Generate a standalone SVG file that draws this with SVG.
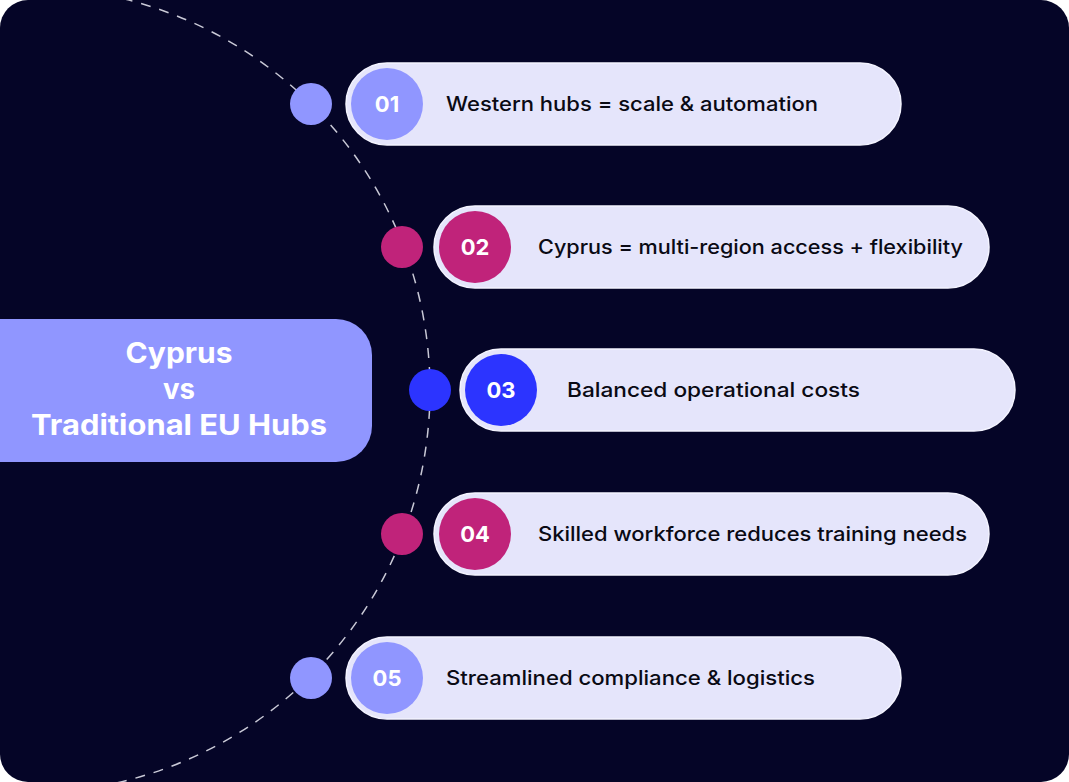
<svg xmlns="http://www.w3.org/2000/svg" width="1069" height="782" viewBox="0 0 1069 782">
<defs>
<style>
.pill{fill:#E5E5FB;stroke:#F4F4FF;stroke-width:1.5}
.lbl{font-family:Inter,"Noto Sans",sans-serif;font-size:20px;font-weight:500;fill:#0A0A14}
.num{font-family:Inter,"Noto Sans",sans-serif;font-size:22px;font-weight:700;fill:#FFFFFF;text-anchor:middle}
.title{font-family:Inter,"Noto Sans",sans-serif;font-size:28px;font-weight:700;fill:#FFFFFF;text-anchor:middle}
.c1{fill:#9096FF}.c2{fill:#C0237A}.c3{fill:#2C34FF}
</style>
<clipPath id="bg"><rect x="0" y="0" width="1069" height="782" rx="28"/></clipPath>
</defs>
<rect x="0" y="0" width="1069" height="782" fill="#FFFFFF"/>
<rect x="0" y="0" width="1069" height="782" rx="28" fill="#050527"/>
<g id="connectors" clip-path="url(#bg)">
<circle cx="27" cy="390" r="403" fill="none" stroke="#C9C9D6" stroke-width="1.5" stroke-dasharray="10 9"/>
</g>
<g id="center" clip-path="url(#bg)">
<rect x="-40" y="319" width="412" height="143" rx="36" fill="#9096FF"/>
<text class="title" x="179" y="363" textLength="107" lengthAdjust="spacingAndGlyphs">Cyprus</text>
<text class="title" x="179" y="399" textLength="32" lengthAdjust="spacingAndGlyphs">vs</text>
<text class="title" x="179" y="435" textLength="296" lengthAdjust="spacingAndGlyphs">Traditional EU Hubs</text>
</g>
<g id="item1">
<circle class="c1" cx="311" cy="104" r="21"/>
<rect class="pill" x="346" y="63" width="555" height="82" rx="41"/>
<circle class="c1" cx="387" cy="104" r="36"/>
<text class="num" x="387" y="112">01</text>
<text class="lbl" x="446" y="111" textLength="372" lengthAdjust="spacingAndGlyphs">Western hubs = scale &amp; automation</text>
</g>
<g id="item2">
<circle class="c2" cx="402" cy="247" r="21"/>
<rect class="pill" x="434" y="206" width="555" height="82" rx="41"/>
<circle class="c2" cx="475" cy="247" r="36"/>
<text class="num" x="475" y="255">02</text>
<text class="lbl" x="538" y="254" textLength="425" lengthAdjust="spacingAndGlyphs">Cyprus = multi-region access + flexibility</text>
</g>
<g id="item3">
<circle class="c3" cx="430" cy="390" r="21"/>
<rect class="pill" x="460" y="349" width="555" height="82" rx="41"/>
<circle class="c3" cx="501" cy="390" r="36"/>
<text class="num" x="501" y="398">03</text>
<text class="lbl" x="567" y="397" textLength="293" lengthAdjust="spacingAndGlyphs">Balanced operational costs</text>
</g>
<g id="item4">
<circle class="c2" cx="402" cy="534" r="21"/>
<rect class="pill" x="434" y="493" width="555" height="82" rx="41"/>
<circle class="c2" cx="475" cy="534" r="36"/>
<text class="num" x="475" y="542">04</text>
<text class="lbl" x="538" y="541" textLength="429" lengthAdjust="spacingAndGlyphs">Skilled workforce reduces training needs</text>
</g>
<g id="item5">
<circle class="c1" cx="311" cy="678" r="21"/>
<rect class="pill" x="346" y="637" width="555" height="82" rx="41"/>
<circle class="c1" cx="387" cy="678" r="36"/>
<text class="num" x="387" y="686">05</text>
<text class="lbl" x="446" y="685" textLength="369" lengthAdjust="spacingAndGlyphs">Streamlined compliance &amp; logistics</text>
</g>
</svg>
